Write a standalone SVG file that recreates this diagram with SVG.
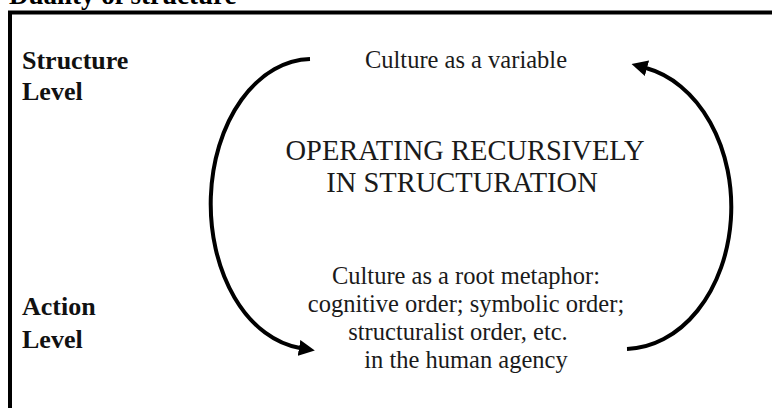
<svg xmlns="http://www.w3.org/2000/svg" width="772" height="408" viewBox="0 0 772 408">
<style>
  .title { font-family: "Liberation Serif", "DejaVu Serif", serif; font-size: 27px; font-weight: bold; fill: #000; }
  .level { font-family: "Liberation Serif", "DejaVu Serif", serif; font-size: 26px; font-weight: bold; fill: #111; }
  .body { font-family: "Liberation Serif", "DejaVu Serif", serif; font-size: 24.5px; fill: #1a1a1a; text-anchor: middle; }
  .big { font-family: "Liberation Serif", "DejaVu Serif", serif; font-size: 28.5px; fill: #1a1a1a; text-anchor: middle; }
  .arc { fill: none; stroke: #000; stroke-width: 4; }
</style>
<defs>
  <marker id="arrow" markerUnits="userSpaceOnUse" markerWidth="16" markerHeight="16" viewBox="0 0 16 16" refX="1" refY="8" orient="auto">
    <path d="M0,0 L16,8 L0,16 Z" fill="#000"/>
  </marker>
</defs>
<rect width="772" height="408" fill="#fff"/>
<text class="title" x="9" y="4">Duality of structure</text>
<rect x="10" y="12.5" width="800" height="420" fill="none" stroke="#000" stroke-width="4"/>
<g id="structure-level">
  <text class="level" x="22" y="69">Structure</text>
  <text class="level" x="22" y="100">Level</text>
</g>
<g id="action-level">
  <text class="level" x="22" y="315">Action</text>
  <text class="level" x="22" y="348">Level</text>
</g>
<g id="culture-variable">
  <text class="body" x="466" y="68">Culture as a variable</text>
</g>
<g id="operating">
  <text class="big" x="465" y="160">OPERATING RECURSIVELY</text>
  <text class="big" x="462" y="192">IN STRUCTURATION</text>
</g>
<g id="culture-root-metaphor">
  <text class="body" x="466" y="284">Culture as a root metaphor:</text>
  <text class="body" x="466" y="312">cognitive order; symbolic order;</text>
  <text class="body" x="458" y="340">structuralist order, etc.</text>
  <text class="body" x="466" y="368">in the human agency</text>
</g>
<g id="connectors">
  <path class="arc" d="M310,59 A101,145 0 0 0 300,348" marker-end="url(#arrow)"/>
  <path class="arc" d="M627,349 A107,142 0 0 0 646,68" marker-end="url(#arrow)"/>
</g>
</svg>
